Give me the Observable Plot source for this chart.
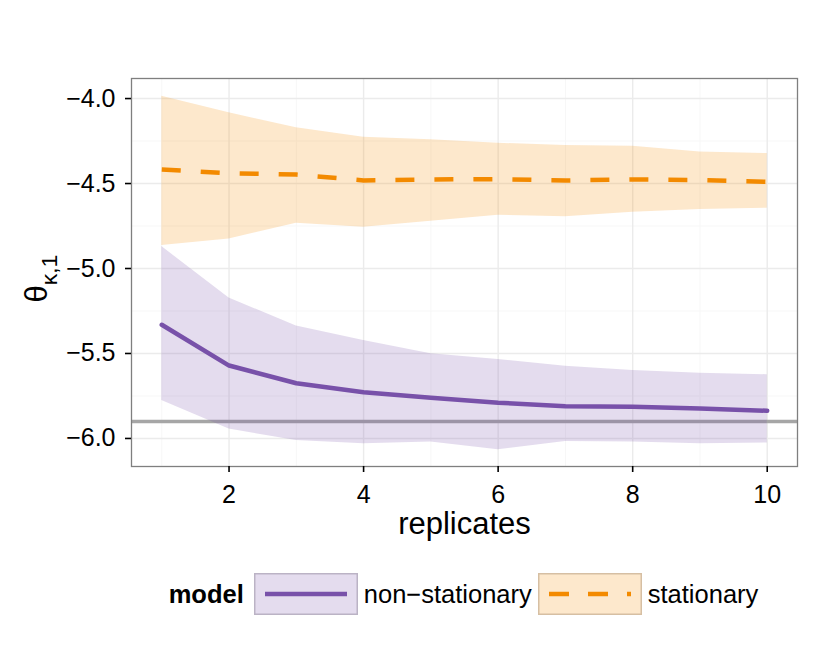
<!DOCTYPE html>
<html>
<head>
<meta charset="utf-8">
<script src="https://cdn.jsdelivr.net/npm/d3@7"></script>
<script src="https://cdn.jsdelivr.net/npm/@observablehq/plot@0.6"></script>
<style>
  html, body { margin: 0; padding: 0; background: white; overflow: hidden; }
  body { width: 830px; height: 664px; position: relative; font-family: "Liberation Sans", Arial, sans-serif; }
  #legend { position: absolute; left: 103px; width: 727px; top: 573px; height: 42px;
            display: flex; justify-content: center; align-items: center; font-size: 25.5px; color: black; }
  #legend .title { font-weight: bold; margin-right: 10px; }
  #legend .lab { margin: 0 6px 0 6px; }
  #legend svg { display: block; }
</style>
</head>
<body>
<div id="chart"></div>
<div id="legend"></div>
<script>
// ---- data ----
const replicates = [1, 2, 3, 4, 5, 6, 7, 8, 9, 10];
const nsMean  = [-5.331, -5.571, -5.675, -5.728, -5.761, -5.790, -5.810, -5.814, -5.824, -5.837];
const nsLower = [-5.776, -5.945, -6.012, -6.031, -6.021, -6.067, -6.018, -6.021, -6.031, -6.027];
const nsUpper = [-4.871, -5.173, -5.339, -5.424, -5.502, -5.535, -5.575, -5.600, -5.616, -5.625];
const stMean  = [-4.418, -4.439, -4.447, -4.482, -4.476, -4.474, -4.482, -4.476, -4.480, -4.490];
const stLower = [-4.865, -4.826, -4.733, -4.757, -4.722, -4.686, -4.696, -4.669, -4.653, -4.645];
const stUpper = [-3.986, -4.084, -4.172, -4.227, -4.243, -4.263, -4.276, -4.280, -4.314, -4.324];
const trueValue = -5.9;
const models = ["non\u2212stationary", "stationary"];
const xTicksMajor = [2, 4, 6, 8, 10];
const xTicksMinor = [1, 3, 5, 7, 9];
const yTicksMajor = [-6.0, -5.5, -5.0, -4.5, -4.0];
const yTicksMinor = [-5.75, -5.25, -4.75, -4.25];

const purple = "#7851a9";
const orange = "#f38a00";

const ns = replicates.map((r, i) => ({r, mean: nsMean[i], lo: nsLower[i], hi: nsUpper[i]}));
const st = replicates.map((r, i) => ({r, mean: stMean[i], lo: stLower[i], hi: stUpper[i]}));

const font = "Liberation Sans, Arial, Helvetica, sans-serif";

const plot = Plot.plot({
  width: 830,
  height: 550,
  marginTop: 78,
  marginBottom: 84,
  marginLeft: 131,
  marginRight: 33,
  style: {fontFamily: font, background: "white", color: "black"},
  x: {domain: [0.55, 10.45], label: null},
  y: {domain: [-6.165, -3.882], label: null},
  marks: [
    Plot.gridX(xTicksMinor, {stroke: "#f7f7f7", strokeOpacity: 1, strokeWidth: 1}),
    Plot.gridY(yTicksMinor, {stroke: "#f7f7f7", strokeOpacity: 1, strokeWidth: 1}),
    Plot.gridX(xTicksMajor, {stroke: "#ebebeb", strokeOpacity: 1, strokeWidth: 1.4}),
    Plot.gridY(yTicksMajor, {stroke: "#ebebeb", strokeOpacity: 1, strokeWidth: 1.4}),
    Plot.ruleY([trueValue], {stroke: "#a6a6a6", strokeWidth: 3.5}),
    Plot.areaY(ns, {x: "r", y1: "lo", y2: "hi", fill: purple, fillOpacity: 0.2}),
    Plot.areaY(st, {x: "r", y1: "lo", y2: "hi", fill: orange, fillOpacity: 0.2}),
    Plot.line(ns, {x: "r", y: "mean", stroke: purple, strokeWidth: 4.5}),
    Plot.line(st, {x: "r", y: "mean", stroke: orange, strokeWidth: 4.5, strokeDasharray: "19,20", strokeLinecap: "butt"}),
    Plot.frame({stroke: "#7f7f7f", strokeWidth: 1.3}),
    Plot.axisX(xTicksMajor, {tickSize: 6, tickPadding: 13, fontSize: 25, strokeWidth: 1.6, label: null, tickFormat: d => String(d)}),
    Plot.axisY(yTicksMajor, {tickSize: 6, tickPadding: 10, fontSize: 25, strokeWidth: 1.6, label: null, tickFormat: d3.format(".1f")}),
    Plot.text(["replicates"], {text: d => d, frameAnchor: "bottom", lineAnchor: "middle", dy: 58, fontSize: 31}),
    Plot.text(["\u03b8"], {text: d => d, frameAnchor: "left", lineAnchor: "middle", textAnchor: "start", dx: -94, dy: 30, rotate: -90, fontSize: 31})
  ]
});

// subscript for the y title
d3.select(plot).selectAll("text").each(function () {
  if (this.textContent === "\u03b8") {
    d3.select(this).append("tspan").attr("dy", "0.4em").attr("font-size", "0.74em").text("\u03ba,1");
  }
});

document.getElementById("chart").appendChild(plot);

// ---- legend ----
const legend = d3.select("#legend");
legend.append("span").attr("class", "title").text("model");
const keyDefs = [
  {fill: purple, border: "#bbb3c5", stroke: purple, dash: null},
  {fill: orange, border: "#d6bfa3", stroke: orange, dash: "20,19"}
];
models.forEach((m, i) => {
  const k = keyDefs[i];
  const s = legend.append("svg").attr("width", 104).attr("height", 42);
  s.append("rect").attr("x", 0.75).attr("y", 0.75).attr("width", 102.5).attr("height", 40.5)
    .attr("fill", k.fill).attr("fill-opacity", 0.2).attr("stroke", k.border).attr("stroke-width", 1.5);
  const ln = s.append("line").attr("x1", 11).attr("x2", 93).attr("y1", 21).attr("y2", 21)
    .attr("stroke", k.stroke).attr("stroke-width", 4.5);
  if (k.dash) ln.attr("stroke-dasharray", k.dash);
  legend.append("span").attr("class", "lab").text(m);
});
</script>
</body>
</html>
